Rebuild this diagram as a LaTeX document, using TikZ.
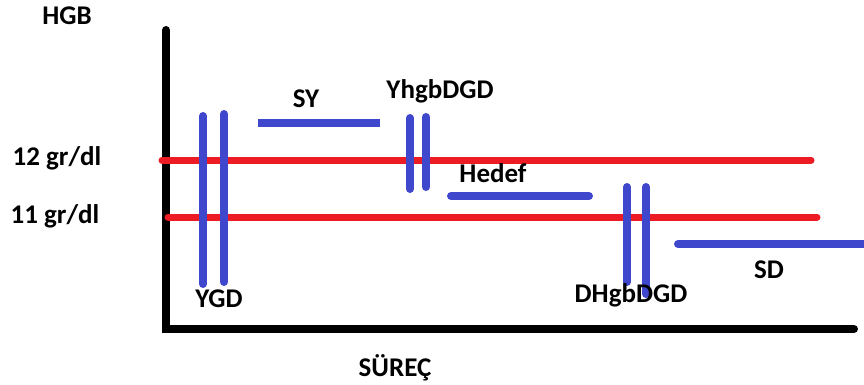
\documentclass[tikz,border=0pt]{standalone}
\usepackage{fontspec}
\setmainfont{Carlito}
\begin{document}
\begin{tikzpicture}[x=1pt,y=-1pt,
  axis/.style={line width=8pt,black,line cap=round},
  lvl/.style={line width=7pt,draw=redl,line cap=round},
  bar/.style={line width=8pt,draw=bluel,line cap=round},
  lab/.style={font=\fontsize{27}{30}\selectfont\bfseries,text=black,inner sep=0pt}]
\definecolor{redl}{RGB}{237,28,36}
\definecolor{bluel}{RGB}{63,72,204}
\useasboundingbox (0,0) rectangle (864,385);
% axes
\coordinate (ytop) at (166,30);
\coordinate (orig) at (166,329);
\coordinate (xend) at (854,329);
\draw[axis] (ytop) -- (orig) -- (xend);
% red levels
\coordinate (r12a) at (162,160);
\coordinate (r12b) at (811,160);
\coordinate (r11a) at (168,217);
\coordinate (r11b) at (817,217);
\draw[lvl] (r12a) -- (r12b);
\draw[lvl] (r11a) -- (r11b);
% YGD
\coordinate (y1a) at (203,116); \coordinate (y1b) at (203,284);
\coordinate (y2a) at (224,114); \coordinate (y2b) at (224,282);
\draw[bar] (y1a) -- (y1b);
\draw[bar] (y2a) -- (y2b);
% SY
\coordinate (sya) at (258,123); \coordinate (syb) at (380,123);
\draw[bar,line cap=butt] (sya) -- (syb);
% YhgbDGD
\coordinate (h1a) at (410,118); \coordinate (h1b) at (410,189);
\coordinate (h2a) at (426,117); \coordinate (h2b) at (426,187);
\draw[bar] (h1a) -- (h1b);
\draw[bar] (h2a) -- (h2b);
% Hedef
\coordinate (hda) at (451,196); \coordinate (hdb) at (589,196);
\draw[bar] (hda) -- (hdb);
% DHgbDGD
\coordinate (d1a) at (627,187); \coordinate (d1b) at (627,282);
\coordinate (d2a) at (646,187); \coordinate (d2b) at (646,294);
\draw[bar] (d1a) -- (d1b);
\draw[bar] (d2a) -- (d2b);
% SD
\coordinate (sda) at (678,244); \coordinate (sdb) at (868,244);
\draw[bar] (sda) -- (sdb);
% labels
\node[lab] (hgb) at (67,16) {HGB};
\node[lab] (l12) at (57,158) {12 gr/dl};
\node[lab] (l11) at (55,216) {11 gr/dl};
\node[lab] (ygd) at (219,299) {YGD};
\node[lab] (sy) at (306,99) {SY};
\node[lab] (yh) at (440,91) {YhgbDGD};
\node[lab] (hed) at (493,173) {Hedef};
\node[lab] (dh) at (631,295) {DHgbDGD};
\node[lab] (sd) at (769,270) {SD};
\node[lab] (sur) at (395,368) {SÜREÇ};
\end{tikzpicture}
\end{document}
